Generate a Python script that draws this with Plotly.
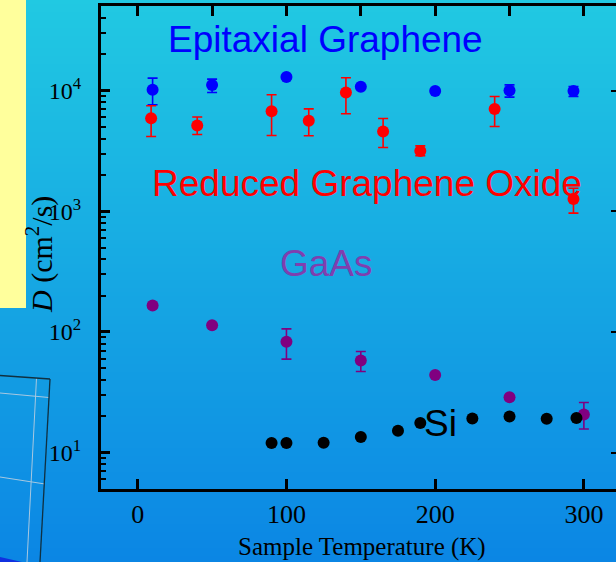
import plotly.graph_objects as go

# ---------------- data ----------------
epi_T = [10, 50, 100, 150, 200, 250, 293]
epi_D = [10140, 11090, 12910, 10730, 9890, 10000, 9890]
epi_hi = [12670, 12420, 13300, 11000, 10150, 11140, 10790]
epi_lo = [7620, 9620, 12500, 10450, 9650, 8810, 8920]

rgo_T = [9, 40, 90, 115, 140, 165, 190, 240, 293]
rgo_D = [5900, 5130, 6740, 5610, 9620, 4570, 3160, 7020, 1260]
rgo_hi = [7470, 6030, 9210, 7050, 12740, 5860, 3480, 8910, 1550]
rgo_lo = [4160, 4315, 4240, 4220, 6410, 3370, 2880, 5040, 964]

gaas_T = [10, 50, 100, 150, 200, 250, 300]
gaas_D = [165.6, 113.8, 82.8, 57.9, 43.9, 28.8, 20.7]
gaas_hi = [172, 118, 106, 68.8, 45, 29.5, 26]
gaas_lo = [159, 110, 59.6, 47, 42.8, 28.1, 15.7]

si_T = [90, 100, 125, 150, 175, 190, 225, 250, 275, 295]
si_D = [12.0, 12.0, 12.1, 13.5, 15.2, 17.6, 19.2, 19.9, 19.1, 19.4]

x_ticks = [0, 100, 200, 300]
x_top_ticks = [0, 50, 100, 150, 200, 250, 300]
y_ticks = [10, 100, 1000, 10000]
y_ticktext = ["10<sup>1</sup>", "10<sup>2</sup>", "10<sup>3</sup>", "10<sup>4</sup>"]

W, H = 616, 562
L, R, T, B = 101, 0, 6, 73
PW, PH = W - L - R, H - T - B


def px2paper(px, py):
    return (px - L) / PW, (H - B - py) / PH


fig = go.Figure()


def add_series(xs, ys, hi, lo, color):
    err = None
    if hi is not None:
        plus = [h - v for h, v in zip(hi, ys)]
        minus = [v - l for l, v in zip(lo, ys)]
        err = dict(type="data", symmetric=False, array=plus, arrayminus=minus,
                   color=color, thickness=1.6, width=5)
    fig.add_trace(go.Scatter(
        x=xs, y=ys, mode="markers",
        marker=dict(color=color, size=12, line=dict(width=0)),
        error_y=err, showlegend=False, hoverinfo="skip"))


add_series(epi_T, epi_D, epi_hi, epi_lo, "#0000ff")
add_series(rgo_T, rgo_D, rgo_hi, rgo_lo, "#ff0000")
add_series(gaas_T, gaas_D, gaas_hi, gaas_lo, "#800080")
add_series(si_T, si_D, None, None, "#000000")

# invisible trace to activate top/right axes
fig.add_trace(go.Scatter(x=[None], y=[None], xaxis="x2", yaxis="y2",
                         showlegend=False, hoverinfo="skip"))

xr = [-24.7, 321.6]
yr = [0.699, 4.70]
font_serif = "Liberation Serif, Times New Roman, serif"
font_sans = "Liberation Sans, Arial, sans-serif"

minor_vals = [m * 10 ** d for d in range(0, 5) for m in range(2, 10)]

fig.update_layout(
    width=W, height=H,
    margin=dict(l=L, r=R, t=T, b=B, pad=0),
    paper_bgcolor="#18aae0",
    plot_bgcolor="rgba(0,0,0,0)",
    xaxis=dict(range=xr, tickmode="array", tickvals=x_ticks,
               ticks="inside", ticklen=10, tickwidth=2.5, tickcolor="black",
               showline=True, linewidth=3, linecolor="black",
               showgrid=False, zeroline=False,
               tickfont=dict(family=font_serif, size=26, color="black"),
               ticklabelstandoff=0),
    xaxis2=dict(range=xr, overlaying="x", side="top", tickmode="array",
                tickvals=x_top_ticks, ticks="inside", ticklen=10, tickwidth=2.5,
                tickcolor="black", showline=True, linewidth=3, linecolor="black",
                showticklabels=False, showgrid=False, zeroline=False),
    yaxis=dict(type="log", range=yr, tickmode="array", tickvals=y_ticks,
               ticktext=y_ticktext, ticks="inside", ticklen=9, tickwidth=2.5,
               tickcolor="black", showline=True, linewidth=3, linecolor="black",
               showgrid=False, zeroline=False,
               minor=dict(tickmode="array", tickvals=minor_vals, ticks="inside",
                          ticklen=5, tickwidth=2, tickcolor="black", showgrid=False),
               tickfont=dict(family=font_serif, size=24, color="black"),
               ticklabelstandoff=12),
    yaxis2=dict(type="log", range=yr, overlaying="y", side="right",
                tickmode="array", tickvals=y_ticks, ticks="inside", ticklen=5,
                tickwidth=2, tickcolor="black", showline=False,
                showticklabels=False, showgrid=False, zeroline=False),
)

# ---------------- background decoration ----------------
shapes = []
top_c = (33, 201, 226)
bot_c = (11, 134, 228)
step = 4
for py in range(0, H, step):
    f = (py + step / 2) / H
    c = tuple(round(a + (b - a) * f) for a, b in zip(top_c, bot_c))
    x0, y0 = px2paper(0, py)
    x1, y1 = px2paper(W, min(H, py + step + 1))
    shapes.append(dict(type="rect", xref="paper", yref="paper", x0=x0, x1=x1,
                       y0=y1, y1=y0, fillcolor="rgb(%d,%d,%d)" % c,
                       line=dict(width=0), layer="below"))

# yellow box
x0, y0 = px2paper(0, 0)
x1, y1 = px2paper(26, 308)
shapes.append(dict(type="rect", xref="paper", yref="paper", x0=x0, x1=x1,
                   y0=y1, y1=y0, fillcolor="#ffff9c", line=dict(width=0),
                   layer="below"))


def seg(p, q, color, width):
    a = px2paper(*p)
    b = px2paper(*q)
    shapes.append(dict(type="line", xref="paper", yref="paper",
                       x0=a[0], y0=a[1], x1=b[0], y1=b[1],
                       line=dict(color=color, width=width), layer="below"))


# partial 3D frame in lower-left
seg((0, 393), (49, 397.5), "#a8c8e0", 1)
seg((0, 477), (45, 484), "#a8c8e0", 1)
seg((36.5, 378), (27, 562), "#a8c8e0", 1)
seg((0, 375.5), (50, 379), "#103040", 1.3)
seg((50, 379), (40, 562), "#103040", 1.3)
x0, y0 = px2paper(0, 557)
x1, y1 = px2paper(22, 562)
shapes.append(dict(type="path", xref="paper", yref="paper",
                   path="M %f %f L %f %f L %f %f Z" % (x0, y0, x1, y1, x0, y1),
                   fillcolor="#1030e0", line=dict(width=0), layer="below"))

fig.update_layout(shapes=shapes)

# ---------------- text ----------------
ann = []


def label(text, px, py, color, size, family, angle=0):
    x, y = px2paper(px, py)
    ann.append(dict(text=text, x=x, y=y, xref="paper", yref="paper",
                    xanchor="center", yanchor="middle", showarrow=False,
                    textangle=angle, font=dict(family=family, size=size, color=color)))


label("Epitaxial Graphene", 325.5, 39, "#0000ff", 37, font_sans)
label("Reduced Graphene Oxide", 367.3, 183, "#ff0000", 37, font_sans)
label("GaAs", 326, 263, "#7f3faf", 37, font_sans)
label("Si", 440, 423, "#000000", 37, font_sans)
label("<i>D</i> (cm<sup>2</sup>/s)", 39, 255, "#000000", 30, font_serif, -90)
label("Sample Temperature (K)", 361.7, 547, "#000000", 25, font_serif)

fig.update_layout(annotations=ann)

fig.write_html("out.html", config={"displayModeBar": False},
               post_script="document.body.style.margin='0';document.body.style.overflow='hidden';")
